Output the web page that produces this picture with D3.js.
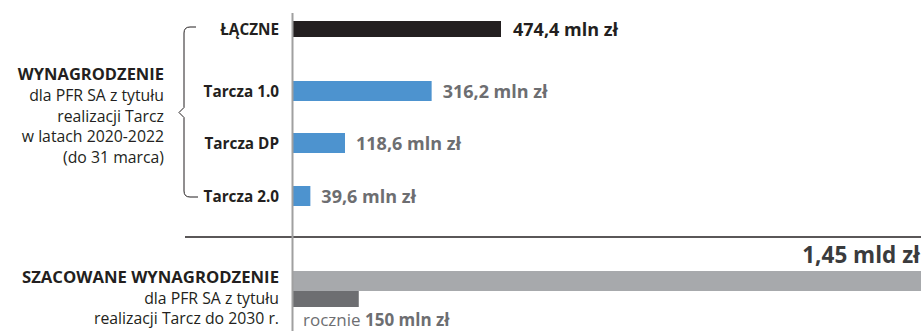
<!DOCTYPE html>
<html lang="pl">
<head>
<meta charset="UTF-8" />
<title>Wynagrodzenie PFR SA</title>
<style>
  body { margin: 0; background: #fff; }
  svg text { font-family: "Open Sans", "Noto Sans", sans-serif; }
</style>
</head>
<body>
<svg width="921" height="331"></svg>
<script src="https://d3js.org/d3.v7.min.js"></script>
<script>
// dane
var categories = ["ŁĄCZNE", "Tarcza 1.0", "Tarcza DP", "Tarcza 2.0"];
var values = [474.4, 316.2, 118.6, 39.6];
var estimateTotal = 1450;   // mln zł do 2030 r.
var estimateYearly = 150;   // mln zł rocznie
var leftTitle = ["WYNAGRODZENIE"];
var leftLines = ["dla PFR SA z tytułu", "realizacji Tarcz", "w latach 2020-2022", "(do 31 marca)"];
var bottomTitle = "SZACOWANE WYNAGRODZENIE";
var bottomLines = ["dla PFR SA z tytułu", "realizacji Tarcz do 2030 r."];

var svg = d3.select("svg");
var x0 = 293;

var x = d3.scaleLinear()
  .domain([0, 474.4])
  .range([x0, 501]);

var y = d3.scaleOrdinal()
  .domain(categories)
  .range([29, 91, 143, 196]);

var fmt = function(v) { return d3.format(".1f")(v).replace(".", ",") + " mln zł"; };

// bars
svg.append("g")
  .selectAll("rect")
  .data(categories)
  .enter()
  .append("rect")
  .attr("x", x0)
  .attr("y", function(d, i) { return y(d) - (i == 0 ? 8 : 10); })
  .attr("width", function(d, i) { return x(values[i]) - x0; })
  .attr("height", function(d, i) { return i == 0 ? 16 : 20; })
  .attr("fill", function(d, i) { return i == 0 ? "#231f20" : "#4d93cf"; });

// value labels
svg.append("g")
  .selectAll("text")
  .data(categories)
  .enter()
  .append("text")
  .attr("x", function(d, i) { return x(values[i]) + (i == 0 ? 12 : 11); })
  .attr("y", function(d) { return y(d) + 6.5; })
  .attr("font-size", 18)
  .attr("font-weight", "bold")
  .attr("fill", function(d, i) { return i == 0 ? "#231f20" : "#6d6e71"; })
  .text(function(d, i) { return fmt(values[i]); });

// category labels
svg.append("g")
  .selectAll("text")
  .data(categories)
  .enter()
  .append("text")
  .attr("x", 279)
  .attr("y", function(d) { return y(d) + 6; })
  .attr("text-anchor", "end")
  .attr("font-size", 15.3)
  .attr("font-weight", "bold")
  .attr("fill", "#231f20")
  .text(function(d) { return d; });

// brace
var bt = y(categories[0]) - 2, bb = y(categories[3]) + 1, bm = (bt + bb) / 2 + 0.5;
svg.append("path")
  .attr("d", "M196," + bt + " L190," + bt + " Q184," + bt + " 184," + (bt + 6) +
    " L184," + (bm - 5) + " L179," + bm + " L184," + (bm + 5) +
    " L184," + (bb - 6) + " Q184," + bb + " 190," + bb + " L198," + bb)
  .attr("fill", "none")
  .attr("stroke", "#231f20")
  .attr("stroke-width", 1);

// left description
var lt = svg.append("text")
  .attr("text-anchor", "end")
  .attr("fill", "#231f20");
lt.append("tspan").attr("x", 164).attr("y", 80)
  .attr("font-weight", "bold").attr("font-size", 16.5)
  .text(leftTitle[0]);
leftLines.forEach(function(l, i) {
  lt.append("tspan").attr("x", 164).attr("y", 101 + i * 20.5)
    .attr("font-size", 15.8).text(l);
});

// separator
svg.append("line")
  .attr("x1", 185).attr("x2", 921)
  .attr("y1", 237).attr("y2", 237)
  .attr("stroke", "#231f20").attr("stroke-width", 1.3);

// estimate bars (same scale as above)
svg.append("rect")
  .attr("x", x0).attr("y", 271)
  .attr("width", x(estimateTotal) - x0).attr("height", 20)
  .attr("fill", "#a7a9ac");
svg.append("rect")
  .attr("x", x0).attr("y", 291)
  .attr("width", x(estimateYearly) - x0).attr("height", 16)
  .attr("fill", "#6d6e71");

svg.append("text")
  .attr("x", 920).attr("y", 263)
  .attr("text-anchor", "end")
  .attr("font-size", 22.5).attr("font-weight", "bold")
  .attr("fill", "#3a3b3d")
  .text(d3.format(".2f")(estimateTotal / 1000).replace(".", ",") + " mld zł");

var yr = svg.append("text")
  .attr("x", 303).attr("y", 326)
  .attr("font-size", 17).attr("fill", "#6d6e71");
yr.append("tspan").text("rocznie ");
yr.append("tspan").attr("font-weight", "bold").text(estimateYearly + " mln zł");

// bottom description
var bt2 = svg.append("text").attr("text-anchor", "end").attr("fill", "#231f20");
bt2.append("tspan").attr("x", 279).attr("y", 283)
  .attr("font-weight", "bold").attr("font-size", 16.7).text(bottomTitle);
bottomLines.forEach(function(l, i) {
  bt2.append("tspan").attr("x", 279).attr("y", 304 + i * 20)
    .attr("font-size", 15.8).text(l);
});

// axis line
svg.append("line")
  .attr("x1", x0 - 0.5).attr("x2", x0 - 0.5)
  .attr("y1", 13).attr("y2", 331)
  .attr("stroke", "#a0a0a0").attr("stroke-width", 2);
</script>
</body>
</html>
